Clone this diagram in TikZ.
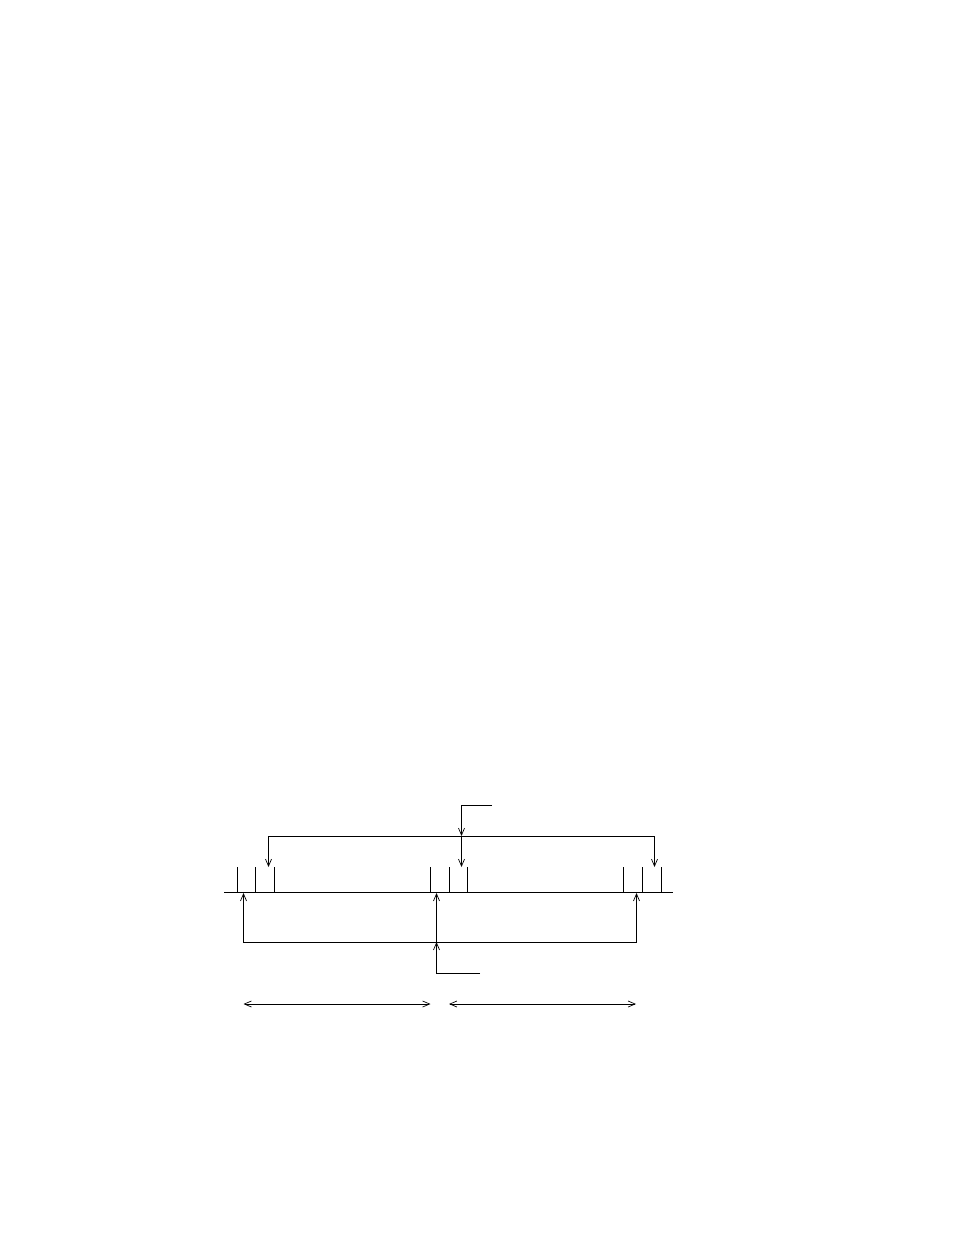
\documentclass[tikz,border=0pt]{standalone}
\usetikzlibrary{arrows.meta}
\begin{document}
\begin{tikzpicture}[x=0.5pt,y=-0.5pt,
  ln/.style={line width=0.45pt},
  arr/.style={ln,-{Straight Barb[length=3.5pt,width=3pt,line width=0.35pt]}},
  dim/.style={ln,{Straight Barb[length=3.5pt,width=3pt,line width=0.35pt]}-{Straight Barb[length=3.5pt,width=3pt,line width=0.35pt]}}]
\useasboundingbox (0,0) rectangle (954,1235);
% baseline
\coordinate (bl) at (224,892);
\coordinate (br) at (673,892);
\draw[ln] (bl) -- (br);
% ticks
\foreach \n/\x in {t1/237.5,t2/255.5,t3/274.5,t4/430.5,t5/449.5,t6/467.5,t7/623.5,t8/642.5,t9/661.5}{
  \coordinate (\n b) at (\x,892);
  \coordinate (\n t) at (\x,867);
  \draw[ln] (\n b) -- (\n t);
}
% top bracket
\coordinate (ta) at (268.5,867);
\coordinate (tac) at (268.5,836);
\coordinate (tbc) at (654.5,836);
\coordinate (tb) at (654.5,867);
\draw[arr] (tbc) -- (tac) -- (ta);
\draw[arr] (tac) -- (tbc) -- (tb);
% top feed
\coordinate (tf0) at (492,805);
\coordinate (tf1) at (461.5,805);
\coordinate (tf2) at (461.5,836);
\coordinate (tf3) at (461.5,867);
\draw[arr] (tf0) -- (tf1) -- (tf2);
\draw[arr] (tf2) -- (tf3);
% bottom bracket
\coordinate (ba) at (243.5,893);
\coordinate (bac) at (243.5,942);
\coordinate (bbc) at (636.5,942);
\coordinate (bb) at (636.5,893);
\draw[arr] (bbc) -- (bac) -- (ba);
\draw[arr] (bac) -- (bbc) -- (bb);
% bottom feed
\coordinate (bf0) at (480,973);
\coordinate (bf1) at (436.5,973);
\coordinate (bf2) at (436.5,942);
\coordinate (bf3) at (436.5,893);
\draw[arr] (bf0) -- (bf1) -- (bf2);
\draw[arr] (bf2) -- (bf3);
% dimension arrows
\coordinate (d1) at (243.5,1004);
\coordinate (d2) at (430.5,1004);
\coordinate (d3) at (449,1004);
\coordinate (d4) at (636,1004);
\draw[dim] (d1) -- (d2);
\draw[dim] (d3) -- (d4);
\end{tikzpicture}
\end{document}
